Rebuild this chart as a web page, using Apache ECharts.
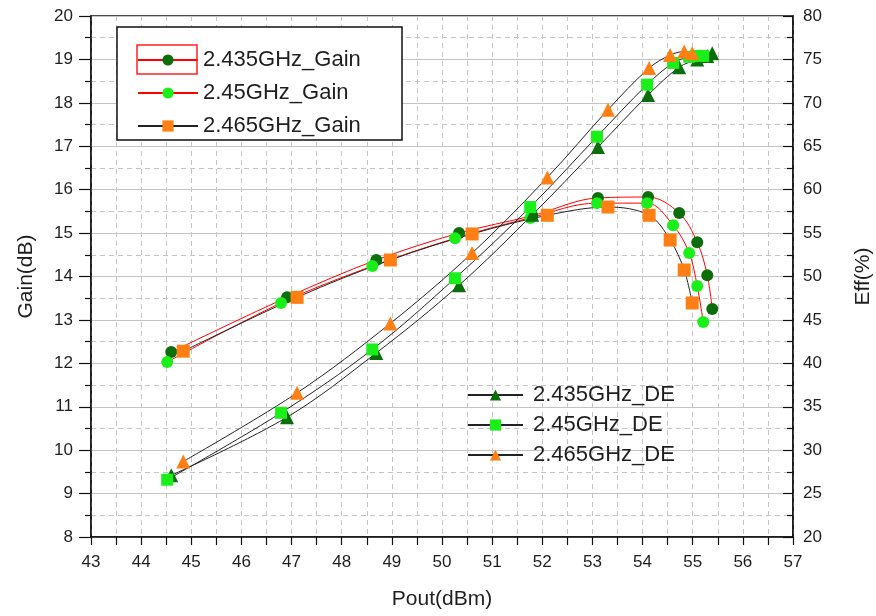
<!DOCTYPE html>
<html>
<head>
<meta charset="utf-8">
<script src="https://cdn.jsdelivr.net/npm/echarts@6/dist/echarts.min.js"></script>
<style>
  html, body { margin: 0; padding: 0; background: #fff; }
  #chart { width: 876px; height: 616px; }
</style>
</head>
<body>
<div id="chart"></div>
<script>
// Pout (dBm) per frequency, shared by gain and DE
const pout2435 = [44.60, 46.91, 48.69, 50.34, 51.80, 53.11, 54.11, 54.73, 55.09, 55.29, 55.39];
const pout2450 = [44.52, 46.79, 48.61, 50.26, 51.76, 53.09, 54.09, 54.61, 54.93, 55.09, 55.21];
const pout2465 = [44.84, 47.11, 48.97, 50.60, 52.10, 53.31, 54.13, 54.55, 54.83, 54.99];

// Gain (dB)
const gain2435 = [12.26, 13.52, 14.38, 15.00, 15.40, 15.81, 15.83, 15.46, 14.79, 14.03, 13.25];
const gain2450 = [12.03, 13.39, 14.24, 14.88, 15.35, 15.69, 15.69, 15.18, 14.54, 13.78, 12.95];
const gain2465 = [12.28, 13.52, 14.38, 14.98, 15.41, 15.60, 15.41, 14.84, 14.15, 13.39];

// Drain efficiency (%)
const de2435 = [27.1, 33.8, 41.2, 49.0, 57.1, 64.9, 70.9, 74.1, 75.0, 75.4, 75.7];
const de2450 = [26.6, 34.3, 41.6, 49.8, 58.0, 66.1, 72.1, 74.6, 75.3, 75.4, 75.4];
const de2465 = [28.7, 36.6, 44.6, 52.7, 61.4, 69.2, 74.0, 75.5, 75.9, 75.7];

const gainNames = ['2.435GHz_Gain', '2.45GHz_Gain', '2.465GHz_Gain'];
const deNames = ['2.435GHz_DE', '2.45GHz_DE', '2.465GHz_DE'];

const FONT = "'Liberation Sans', Arial, sans-serif";
const TXT = '#1e1e1e';
const DARK = '#0b6e0b';
const LIGHT = '#1aef1a';
const ORANGE = '#ff7f14';

const pairs = (xs, ys) => xs.map((x, i) => [x, ys[i]]);

const mkSeries = (name, xs, ys, yIdx, lineColor, symbol, size, color) => ({
  name: name,
  type: 'line',
  yAxisIndex: yIdx,
  data: pairs(xs, ys),
  smooth: 0.35,
  symbol: symbol,
  symbolSize: size,
  lineStyle: { color: lineColor, width: 1 },
  itemStyle: { color: color },
  emphasis: { disabled: true },
  animation: false
});

const chart = echarts.init(document.getElementById('chart'));
chart.setOption({
  backgroundColor: '#fff',
  textStyle: { fontFamily: FONT },
  grid: {
    left: 91, right: 83, top: 16, bottom: 79,
    outerBoundsMode: 'none', containLabel: false,
    show: true, borderColor: '#111', borderWidth: 1.5, backgroundColor: 'transparent'
  },
  xAxis: {
    type: 'value', min: 43, max: 57, interval: 1,
    name: 'Pout(dBm)', nameLocation: 'middle', nameGap: 52,
    nameTextStyle: { fontSize: 21, color: TXT, fontFamily: FONT },
    axisLine: { lineStyle: { color: '#111', width: 1.5 } },
    axisTick: { length: 8, lineStyle: { color: '#111', width: 1.2 } },
    minorTick: { show: true, splitNumber: 2, length: 8, lineStyle: { color: '#111', width: 1.2 } },
    axisLabel: { fontSize: 17, color: TXT, margin: 17, fontFamily: FONT },
    splitLine: { show: true, lineStyle: { color: '#c4c4c4', type: [5, 4], width: 1 } },
    minorSplitLine: { show: true, lineStyle: { color: '#c4c4c4', type: [5, 4], width: 1 } }
  },
  yAxis: [
    {
      type: 'value', min: 8, max: 20, interval: 1, position: 'left',
      name: 'Gain(dB)', nameLocation: 'middle', nameGap: 54,
      nameTextStyle: { fontSize: 21, color: TXT, fontFamily: FONT },
      axisLine: { show: true, lineStyle: { color: '#111', width: 1.5 } },
      axisTick: { show: true, length: 12, lineStyle: { color: '#111', width: 1.2 } },
      minorTick: { show: true, splitNumber: 2, length: 6, lineStyle: { color: '#111', width: 1.2 } },
      axisLabel: { fontSize: 17, color: TXT, margin: 18, fontFamily: FONT },
      splitLine: { show: true, lineStyle: { color: '#c4c4c4', type: 'solid', width: 1 } },
      minorSplitLine: { show: true, lineStyle: { color: '#c4c4c4', type: [5, 4], width: 1 } }
    },
    {
      type: 'value', min: 20, max: 80, interval: 5, position: 'right',
      name: 'Eff(%)', nameLocation: 'middle', nameGap: 60,
      nameTextStyle: { fontSize: 21, color: TXT, fontFamily: FONT },
      axisLine: { show: true, lineStyle: { color: '#111', width: 1.5 } },
      axisTick: { show: true, inside: true, length: 10, lineStyle: { color: '#111', width: 1.2 } },
      minorTick: { show: true, splitNumber: 2, length: 6, lineStyle: { color: '#111', width: 1.2 } },
      axisLabel: { fontSize: 17, color: TXT, margin: 10, fontFamily: FONT },
      splitLine: { show: false }
    }
  ],
  legend: [
    {
      data: gainNames,
      orient: 'vertical', left: 137, top: 49,
      itemWidth: 60, itemHeight: 14, itemGap: 11, padding: 0,
      textStyle: { fontSize: 22, lineHeight: 22, color: TXT, fontFamily: FONT },
      z: 5
    },
    {
      data: deNames,
      orient: 'vertical', left: 467, top: 384,
      itemWidth: 55, itemHeight: 14, itemGap: 8, padding: 0,
      textStyle: { fontSize: 22, lineHeight: 22, color: TXT, fontFamily: FONT, padding: [0, 0, 0, 5] },
      z: 5
    }
  ],
  graphic: [
    {
      type: 'rect', z: 3,
      shape: { x: 117, y: 27, width: 285, height: 113 },
      style: { fill: '#fff', stroke: '#111', lineWidth: 1.5 }
    },
    {
      type: 'rect', z: 6,
      shape: { x: 137, y: 45, width: 60, height: 29 },
      style: { fill: 'none', stroke: '#ff2020', lineWidth: 1.5 }
    }
  ],
  series: [
    mkSeries(gainNames[0], pout2435, gain2435, 0, '#ff0000', 'circle', 12, DARK),
    mkSeries(gainNames[1], pout2450, gain2450, 0, '#ff0000', 'circle', 12, LIGHT),
    mkSeries(gainNames[2], pout2465, gain2465, 0, '#222', 'rect', 13, ORANGE),
    mkSeries(deNames[0], pout2435, de2435, 1, '#222', 'triangle', 14, DARK),
    mkSeries(deNames[1], pout2450, de2450, 1, '#222', 'rect', 12, LIGHT),
    mkSeries(deNames[2], pout2465, de2465, 1, '#222', 'triangle', 14, ORANGE)
  ]
});
</script>
</body>
</html>
